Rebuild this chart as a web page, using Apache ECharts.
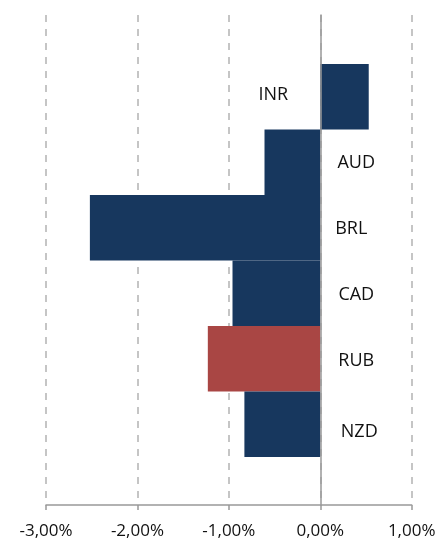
<!DOCTYPE html>
<html>
<head>
<meta charset="utf-8">
<script src="https://cdn.jsdelivr.net/npm/echarts@6/dist/echarts.min.js"></script>
<style>
  html, body { margin: 0; padding: 0; background: #fff; }
  #chart { width: 441px; height: 542px; }
</style>
</head>
<body>
<div id="chart"></div>
<script>
// currencies, top to bottom
const categories = ["INR", "AUD", "BRL", "CAD", "RUB", "NZD"];
// change in percent
const values = [0.53, -0.61, -2.52, -0.96, -1.23, -0.83];
const barColors = ["#17375E", "#17375E", "#17375E", "#17375E", "#A94644", "#17375E"];
const xTicks = { min: -3, max: 1, step: 1 };

// small nudges so the labels sit where the original put them
const labelNudge = [[0, -2], [0, 1], [-5, 1], [0, 2], [0, 2], [3, 8]];

const FONT = "'Open Sans', 'DejaVu Sans', sans-serif";

function fmtPct(v) {
  if (Math.abs(v) < 1e-9) v = 0;
  return v.toFixed(2).replace(".", ",") + "%";
}

const chart = echarts.init(document.getElementById("chart"), null, { renderer: "canvas" });

const option = {
  animation: false,
  grid: [
    // axis + gridlines
    { left: 46, right: 29.3, top: 15, bottom: 37 },
    // bars
    { left: 46, right: 29.3, top: 64, bottom: 85 },
  ],
  xAxis: [
    {
      gridIndex: 0,
      type: "value",
      min: xTicks.min,
      max: xTicks.max,
      interval: xTicks.step,
      axisLine: { show: true, onZero: false, lineStyle: { color: "#999", width: 1.5 } },
      axisTick: { show: true, length: 5, lineStyle: { color: "#999", width: 1.5 } },
      axisLabel: {
        color: "#111",
        fontFamily: FONT,
        fontSize: 17,
        margin: 18,
        formatter: fmtPct,
      },
      splitLine: {
        show: true,
        lineStyle: { color: "#b3b3b3", width: 1.5, type: [7, 7] },
      },
    },
    {
      gridIndex: 1,
      type: "value",
      min: xTicks.min,
      max: xTicks.max,
      interval: xTicks.step,
      show: false,
    },
  ],
  yAxis: [
    {
      gridIndex: 0,
      type: "category",
      data: categories,
      inverse: true,
      z: 5,
      axisLine: { show: true, onZero: true, lineStyle: { color: "#999", width: 1.5 } },
      axisTick: { show: false },
      axisLabel: { show: false },
      splitLine: { show: false },
    },
    {
      gridIndex: 1,
      type: "category",
      data: categories,
      inverse: true,
      show: false,
    },
  ],
  series: [
    {
      type: "bar",
      xAxisIndex: 1,
      yAxisIndex: 1,
      barCategoryGap: "0%",
      data: values.map((v, i) => ({
        value: v,
        itemStyle: { color: barColors[i] },
        label: {
          show: true,
          position: v < 0 ? "right" : "left",
          distance: v < 0 ? 36 : 47,
          align: "center",
          offset: labelNudge[i],
          formatter: categories[i],
          color: "#111",
          fontFamily: FONT,
          fontSize: 18,
        },
      })),
    },
  ],
};

chart.setOption(option);
</script>
</body>
</html>
